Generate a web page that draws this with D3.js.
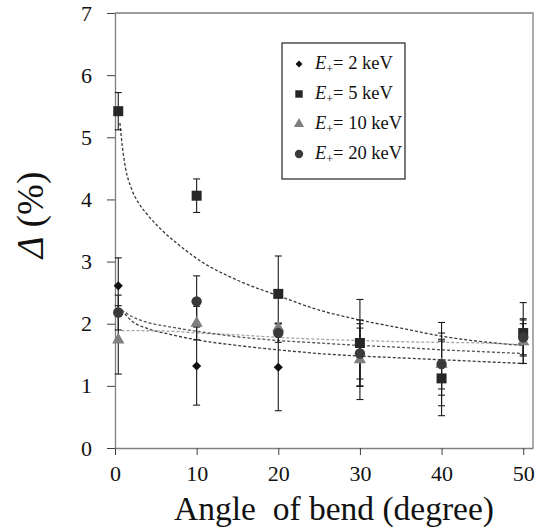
<!DOCTYPE html>
<head>
<meta charset="utf-8">
<title>Delta vs angle of bend</title>
<style>
  body { margin: 0; background: #fff; }
  svg text { font-family: "Liberation Serif", "Times New Roman", "DejaVu Serif", serif; }
</style>
</head>
<body>
<script src="https://d3js.org/d3.v7.min.js"></script>
<script>
// measured points, angle of bend (degree)
let angles = [0.4, 10, 20, 30, 40, 50];

// Delta (%) for each energy, with error bar half-widths
let delta2 = [2.61, 1.32, 1.30, 1.50, 1.35, 1.75];
let err2 = [0.45, 0.63, 0.70, 0.50, 0.50, 0.25];
let delta5 = [5.42, 4.06, 2.48, 1.69, 1.12, 1.85];
let err5 = [0.30, 0.27, 0.61, 0.70, 0.60, 0.49];
let delta10 = [1.74, 2.01, 1.93, 1.42, 1.35, 1.71];
let err10 = [0.55, 0.27, 0.08, 0.64, 0.40, 0.35];
let delta20 = [2.18, 2.36, 1.85, 1.52, 1.35, 1.78];
let err20 = [0.28, 0.41, 0.15, 0.41, 0.67, 0.30];

// dashed trend lines [angle, delta]
let trend2 = [[0.8, 2.22], [2, 2.05], [4, 1.92], [6.7, 1.83], [10, 1.74], [15, 1.65], [20, 1.58], [25, 1.52], [30, 1.48], [35, 1.45], [40, 1.42], [45, 1.39], [50, 1.36]];
let trend5 = [[0.6, 5.23], [0.9, 4.85], [1.3, 4.5], [2, 4.18], [3, 3.92], [4, 3.75], [5.7, 3.51], [8, 3.25], [10, 3.05], [15, 2.70], [20, 2.45], [25, 2.22], [30, 2.06], [35, 1.93], [40, 1.80], [45, 1.71], [50, 1.65]];
let trend10 = [[0.8, 1.89], [6.7, 1.88], [10, 1.85], [15, 1.82], [20, 1.78], [25, 1.75], [30, 1.73], [35, 1.71], [40, 1.70], [45, 1.69], [50, 1.66]];
let trend20 = [[0.8, 2.22], [2, 2.12], [4, 2.02], [6.7, 1.95], [10, 1.88], [15, 1.79], [20, 1.73], [25, 1.69], [30, 1.65], [35, 1.62], [40, 1.58], [45, 1.55], [50, 1.52]];

let energies = ["2", "5", "10", "20"];
let xTicks = [0, 10, 20, 30, 40, 50];
let yTicks = [0, 1, 2, 3, 4, 5, 6, 7];

let width = 555;
let height = 530;
let plotLeft = 115, plotRight = 533, plotTop = 13, plotBottom = 448;
let serif = "'Liberation Serif', 'Times New Roman', 'DejaVu Serif', serif";

let svg = d3.select("body").append("svg")
    .attr("width", width)
    .attr("height", height)
    .attr("font-family", serif);

let x = d3.scaleLinear().domain([0, 51.2]).range([plotLeft, plotRight]);
let y = d3.scaleLinear().domain([0, 7]).range([plotBottom, plotTop]);

// plot area border (top and right)
svg.append("path")
    .attr("d", `M${plotLeft},${plotTop}H${plotRight}V${plotBottom}`)
    .attr("fill", "none")
    .attr("stroke", "#7f7f7f")
    .attr("stroke-width", 1.3);

// axes
let xAxis = svg.append("g")
    .attr("transform", `translate(0,${plotBottom})`)
    .call(d3.axisBottom(x).tickValues(xTicks).tickFormat(d3.format("d"))
        .tickSize(7).tickPadding(10).tickSizeOuter(0));
let yAxis = svg.append("g")
    .attr("transform", `translate(${plotLeft},0)`)
    .call(d3.axisLeft(y).tickValues(yTicks).tickFormat(d3.format("d"))
        .tickSize(8).tickPadding(15).tickSizeOuter(0));

[xAxis, yAxis].forEach(function (g) {
    g.attr("font-family", serif).attr("font-size", 22);
    g.select(".domain").attr("stroke", "#7f7f7f").attr("stroke-width", 1.3);
    g.selectAll(".tick line").attr("stroke", "#404040");
    g.selectAll(".tick text").attr("fill", "#111");
});

// axis titles
svg.append("text")
    .attr("x", 334)
    .attr("y", 520)
    .attr("text-anchor", "middle")
    .attr("font-size", 33.5)
    .style("white-space", "pre")
    .attr("fill", "#111")
    .text("Angle  of bend (degree)");

let yTitle = svg.append("text")
    .attr("transform", "translate(43,215) rotate(-90)")
    .attr("text-anchor", "middle")
    .attr("font-size", 37)
    .attr("fill", "#111");
yTitle.append("tspan").style("font-style", "italic").text("Δ");
yTitle.append("tspan").text(" (%)");

// trend lines
let line = d3.line()
    .x(d => x(d[0]))
    .y(d => y(d[1]))
    .curve(d3.curveMonotoneX);

let trends = [
    { pts: trend2, color: "#3a3a3a" },
    { pts: trend5, color: "#3a3a3a" },
    { pts: trend10, color: "#a6a6a6" },
    { pts: trend20, color: "#555555" }
];
trends.forEach(function (t) {
    svg.append("path")
        .datum(t.pts)
        .attr("d", line)
        .attr("fill", "none")
        .attr("stroke", t.color)
        .attr("stroke-width", 1.3)
        .attr("stroke-dasharray", "3,2");
});

// series with markers and error bars (diamond = square turned 45 degrees)
let series = [
    { vals: delta2, errs: err2, symbol: d3.symbolSquare, size: 42, rot: 45, color: "#111111" },
    { vals: delta5, errs: err5, symbol: d3.symbolSquare, size: 100, rot: 0, color: "#262626" },
    { vals: delta10, errs: err10, symbol: d3.symbolTriangle, size: 65, rot: 0, color: "#7f7f7f" },
    { vals: delta20, errs: err20, symbol: d3.symbolCircle, size: 85, rot: 0, color: "#3a3a3a" }
];

series.forEach(function (s) {
    let pts = angles.map((a, i) => ({ a: a, v: s.vals[i], e: s.errs[i] }));
    let eb = svg.append("g");
    eb.selectAll("line.bar")
        .data(pts)
        .join("line")
        .attr("x1", d => x(d.a)).attr("x2", d => x(d.a))
        .attr("y1", d => y(d.v + d.e)).attr("y2", d => y(d.v - d.e))
        .attr("stroke", "#1a1a1a").attr("stroke-width", 1.1);
    [1, -1].forEach(function (sign) {
        eb.selectAll(null)
            .data(pts)
            .join("line")
            .attr("x1", d => x(d.a) - 3.5).attr("x2", d => x(d.a) + 3.5)
            .attr("y1", d => y(d.v + sign * d.e)).attr("y2", d => y(d.v + sign * d.e))
            .attr("stroke", "#1a1a1a").attr("stroke-width", 1.1);
    });
});

series.forEach(function (s) {
    svg.append("g").selectAll("path")
        .data(angles.map((a, i) => [a, s.vals[i]]))
        .join("path")
        .attr("transform", d => `translate(${x(d[0])},${y(d[1])}) rotate(${s.rot})`)
        .attr("d", d3.symbol().type(s.symbol).size(s.size))
        .attr("fill", s.color);
});

// legend
let legend = svg.append("g");
legend.append("rect")
    .attr("x", 282).attr("y", 43)
    .attr("width", 123).attr("height", 136)
    .attr("fill", "#fff")
    .attr("stroke", "#222")
    .attr("stroke-width", 1.2);

let legendSizes = [24, 55, 45, 55];
series.forEach(function (s, i) {
    let ly = 69 + i * 30;
    legend.append("path")
        .attr("transform", `translate(299,${ly - 5}) rotate(${s.rot})`)
        .attr("d", d3.symbol().type(s.symbol).size(legendSizes[i]))
        .attr("fill", s.color);
    let t = legend.append("text")
        .attr("x", 315).attr("y", ly)
        .attr("font-size", 18.5)
        .attr("fill", "#111");
    t.append("tspan").style("font-style", "italic").text("E");
    t.append("tspan").attr("dy", 4).attr("font-size", 12).text("+");
    t.append("tspan").attr("dy", -4).text("= " + energies[i] + " keV");
});
</script>
</body>
